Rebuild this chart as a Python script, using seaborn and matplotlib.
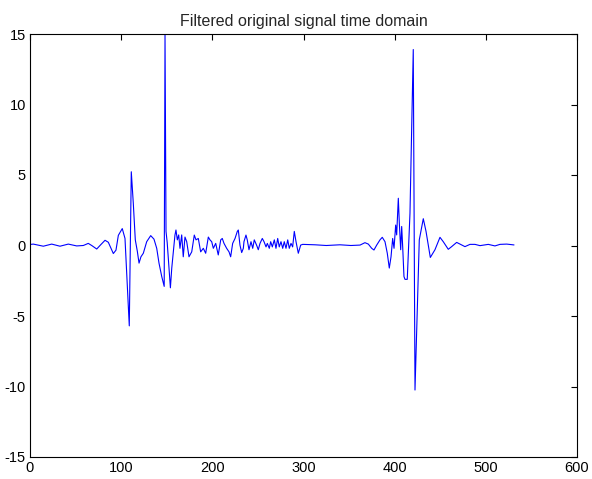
import numpy as np
import pandas as pd
import matplotlib
matplotlib.use("Agg")
import matplotlib.pyplot as plt
import seaborn as sns

# sample positions and amplitudes
sample_idx = [
    1, 3.6, 14.6, 23.8, 32.9, 42.0, 51.2, 58.5, 63.9, 67.7, 73.2, 77.5, 82.3, 85.9,
    91.4, 94.3, 96.9, 101.2, 104.2, 108.9, 111.1, 113.3, 115.5, 117.7, 119.6, 121.7,
    124.3, 128.0, 132.4, 136.0, 139.0, 141.5, 144.5, 147.2, 148.1, 149.2, 150.5,
    154.0, 155.5, 159.0, 160.1, 161.6, 163.1, 164.5, 166.4, 168.1, 170.0, 171.9,
    174.4, 177.4, 180.2, 182.1, 184.6, 187.2, 190.1, 192.7, 195.6, 197.4, 199.3,
    201.1, 203.7, 206.5, 209.2, 210.9, 212.8, 215.7, 218.3, 220.1, 222.3, 224.9,
    227.4, 228.5, 230.3, 232.2, 234.0, 234.7, 236.9, 238.3, 240.2, 242.4, 244.3,
    246.0, 248.7, 250.4, 252.3, 254.8, 256.7, 258.9, 260.3, 262.5, 264.0, 265.8,
    268.0, 269.8, 271.7, 273.4, 275.3, 277.2, 278.9, 280.8, 282.7, 284.4, 286.3,
    288.1, 289.9, 291.8, 294.3, 296.9, 299.1, 312.6, 325.0, 340.0, 352.0,
    362.0, 367.4, 371.1, 374.8, 377.3, 380.3, 383.9, 386.4, 389.4, 391.9, 394.1,
    396.0, 397.8, 399.3, 401.1, 402.2, 404.0, 405.1, 406.6, 407.7, 408.8, 410.2,
    411.3, 413.8, 416.8, 420.4, 422.3, 427.0, 431.4, 434.4, 439.1, 444.2, 449.7,
    453.3, 458.8, 462.5, 468.0, 473.5, 477.1, 482.6, 488.1, 493.6, 502.7, 510.0,
    515.5, 522.9, 530.9,
]
amplitude = [
    0.08, 0.1, -0.05, 0.1, -0.05, 0.1, -0.03, 0.0, 0.15, 0.0, -0.25, 0.05, 0.37, 0.23,
    -0.57, -0.33, 0.72, 1.2, 0.5, -5.7, 5.23, 3.0, 0.4, -0.4, -1.25, -0.8,
    -0.55, 0.27, 0.7, 0.45, -0.2, -1.25, -2.2, -2.9, 15.0, 1.0, 0.2,
    -3.0, -1.6, 0.74, 1.1, 0.4, 0.75, -0.2, 0.75, -0.8, 0.6, 0.27,
    -0.8, -0.45, 0.74, 0.4, 0.5, -0.45, -0.2, -0.55, 0.6, 0.4, 0.27,
    -0.2, 0.15, -0.67, 0.4, 0.5, 0.15, -0.2, -0.45, -0.8, 0.15, 0.5,
    1.0, 1.1, 0.03, -0.5, -0.2, 0.27, 0.74, 0.4, -0.3, 0.27, -0.2,
    0.4, 0.0, -0.3, 0.15, 0.5, 0.27, -0.1, 0.15, -0.2, 0.27, -0.1,
    0.4, -0.2, 0.5, -0.1, 0.27, -0.2, 0.27, -0.2, 0.4, -0.2, 0.15,
    -0.1, 1.0, 0.27, -0.55, 0.03, 0.08, 0.05, 0.0, 0.05, 0.0,
    0.03, 0.2, 0.1, -0.2, -0.32, 0.03, 0.4, 0.58, 0.27, -0.55, -1.6,
    -0.8, 0.5, -0.2, 1.45, 0.75, 3.35, 1.6, -0.3, 1.35, -0.1, -2.2,
    -2.4, -2.4, 2.3, 13.9, -10.25, 0.4, 1.9, 1.0, -0.85, -0.3, 0.58,
    0.27, -0.27, -0.08, 0.22, 0.04, -0.08, 0.08, 0.08, -0.01, 0.08, -0.03,
    0.08, 0.1, 0.04,
]
x_ticks = [0, 100, 200, 300, 400, 500, 600]
y_ticks = [-15, -10, -5, 0, 5, 10, 15]

df = pd.DataFrame({"n": sample_idx, "amp": amplitude})

sns.set_style("white")
plt.rcParams["font.family"] = ["Liberation Sans", "DejaVu Sans"]
plt.rcParams["axes.unicode_minus"] = False

fig = plt.figure(figsize=(5.92, 4.79), dpi=100)
ax = fig.add_axes([30 / 592, 1 - 457 / 479, 547 / 592, 423 / 479])

sns.lineplot(data=df, x="n", y="amp", color="#0000ff", linewidth=0.8,
             estimator=None, sort=False, ax=ax)

ax.set_xlim(0, 600)
ax.set_ylim(-15, 15)
ax.set_xticks(x_ticks)
ax.set_yticks(y_ticks)
ax.set_xlabel("")
ax.set_ylabel("")
ax.tick_params(direction="in", top=True, right=True, length=4, width=0.8,
               labelsize=10.5, colors="black", pad=3)
for s in ax.spines.values():
    s.set_visible(True)
    s.set_color("black")
    s.set_linewidth(0.8)
ax.set_title("Filtered original signal time domain", fontsize=11.5, pad=6)

plt.savefig("out.png", dpi=100)
